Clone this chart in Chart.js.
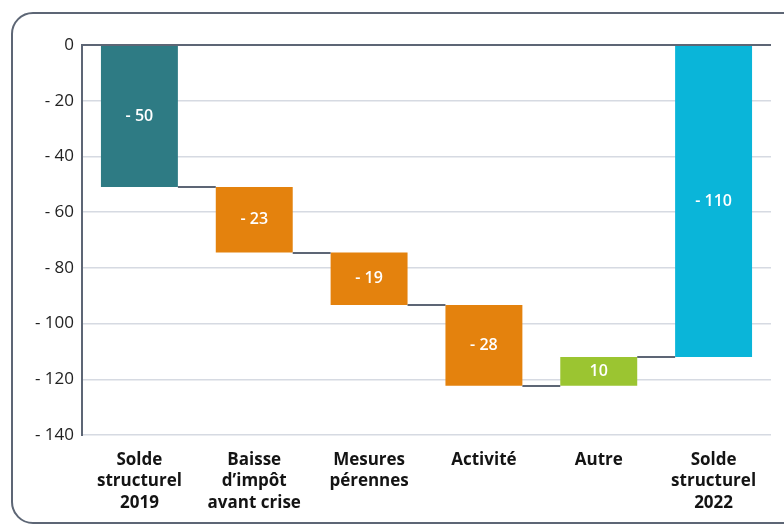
<!DOCTYPE html>
<html lang="fr">
<head>
<meta charset="utf-8">
<script src="https://cdn.jsdelivr.net/npm/chart.js@4.4.1/dist/chart.umd.min.js"></script>
<style>
    html, body { margin: 0; padding: 0; background: #fff; }
    #wrap { position: relative; width: 784px; height: 528px; overflow: hidden; }
    #frame {
        position: absolute; left: 11px; top: 12px; width: 800px; height: 512px;
        border: 2px solid #5d6675; border-radius: 22px; box-sizing: border-box;
    }
    canvas { position: absolute; left: 0; top: 0; }
</style>
</head>
<body>
<div id="wrap">
    <div id="frame"></div>
    <canvas id="chart" width="784" height="528"></canvas>
</div>
<script>
// Waterfall: each bar goes from start to end
const categories = [
    ['Solde', 'structurel', '2019'],
    ['Baisse', 'd\u2019imp\u00f4t', 'avant crise'],
    ['Mesures', 'p\u00e9rennes'],
    ['Activit\u00e9'],
    ['Autre'],
    ['Solde', 'structurel', '2022']
];
const barStart = [0, -51, -74.5, -93.3, -122.3, 0];
const barEnd = [-51, -74.5, -93.3, -122.3, -112, -112];
const barLabels = ['- 50', '- 23', '- 19', '- 28', '10', '- 110'];
const barColors = ['#2e7b84', '#e4820d', '#e4820d', '#e4820d', '#9bc531', '#0ab5d9'];
const yTicks = [0, -20, -40, -60, -80, -100, -120, -140];

const FONT = '"Open Sans", "Noto Sans", sans-serif';

// connector lines between consecutive bars
const connectorPlugin = {
    id: 'connectors',
    afterDatasetsDraw(chart) {
        const ctx = chart.ctx;
        const meta = chart.getDatasetMeta(0);
        const y = chart.scales.y;
        ctx.save();
        ctx.strokeStyle = '#5d6675';
        ctx.lineWidth = 2;
        for (let i = 0; i < meta.data.length - 1; i++) {
            const a = meta.data[i];
            const b = meta.data[i + 1];
            const py = Math.round(y.getPixelForValue(barEnd[i]));
            ctx.beginPath();
            ctx.moveTo(a.x + a.width / 2, py);
            ctx.lineTo(b.x - b.width / 2, py);
            ctx.stroke();
        }
        ctx.restore();
    }
};

// white value label in the middle of each bar
const labelPlugin = {
    id: 'barLabels',
    afterDatasetsDraw(chart) {
        const ctx = chart.ctx;
        const meta = chart.getDatasetMeta(0);
        ctx.save();
        ctx.fillStyle = '#ffffff';
        ctx.font = '600 16px ' + FONT;
        ctx.textAlign = 'center';
        ctx.textBaseline = 'middle';
        meta.data.forEach((bar, i) => {
            const mid = (bar.y + bar.base) / 2;
            ctx.fillText(barLabels[i], bar.x, mid);
        });
        ctx.restore();
    }
};

new Chart(document.getElementById('chart'), {
    type: 'bar',
    data: {
        labels: categories,
        datasets: [{
            data: barStart.map((s, i) => [s, barEnd[i]]),
            backgroundColor: barColors,
            borderWidth: 0,
            borderSkipped: false,
            categoryPercentage: 1,
            barPercentage: 0.67
        }]
    },
    options: {
        responsive: false,
        animation: false,
        layout: { padding: { top: 45, right: 13, left: 0, bottom: 0 } },
        plugins: {
            legend: { display: false },
            tooltip: { enabled: false }
        },
        scales: {
            x: {
                grid: { display: false },
                border: { display: false },
                ticks: {
                    color: '#141414',
                    font: { family: FONT, size: 17, weight: '700', lineHeight: 1.24 },
                    padding: 7,
                    maxRotation: 0,
                    autoSkip: false
                },
                afterFit(scale) { scale.height = 93; }
            },
            y: {
                min: -140,
                max: 0,
                afterBuildTicks(scale) { scale.ticks = yTicks.map(v => ({ value: v })); },
                grid: {
                    drawTicks: false,
                    color: ctx => ctx.tick && ctx.tick.value === 0 ? '#5d6675' : '#d6dae2',
                    lineWidth: ctx => ctx.tick && ctx.tick.value === 0 ? 2 : 1.5
                },
                border: { display: true, color: '#5d6675', width: 2 },
                ticks: {
                    color: '#222222',
                    font: { family: FONT, size: 17 },
                    padding: 8,
                    callback: v => v < 0 ? '- ' + Math.abs(v) : String(v)
                },
                afterFit(scale) { scale.width = 82; }
            }
        }
    },
    plugins: [connectorPlugin, labelPlugin]
});
</script>
</body>
</html>
